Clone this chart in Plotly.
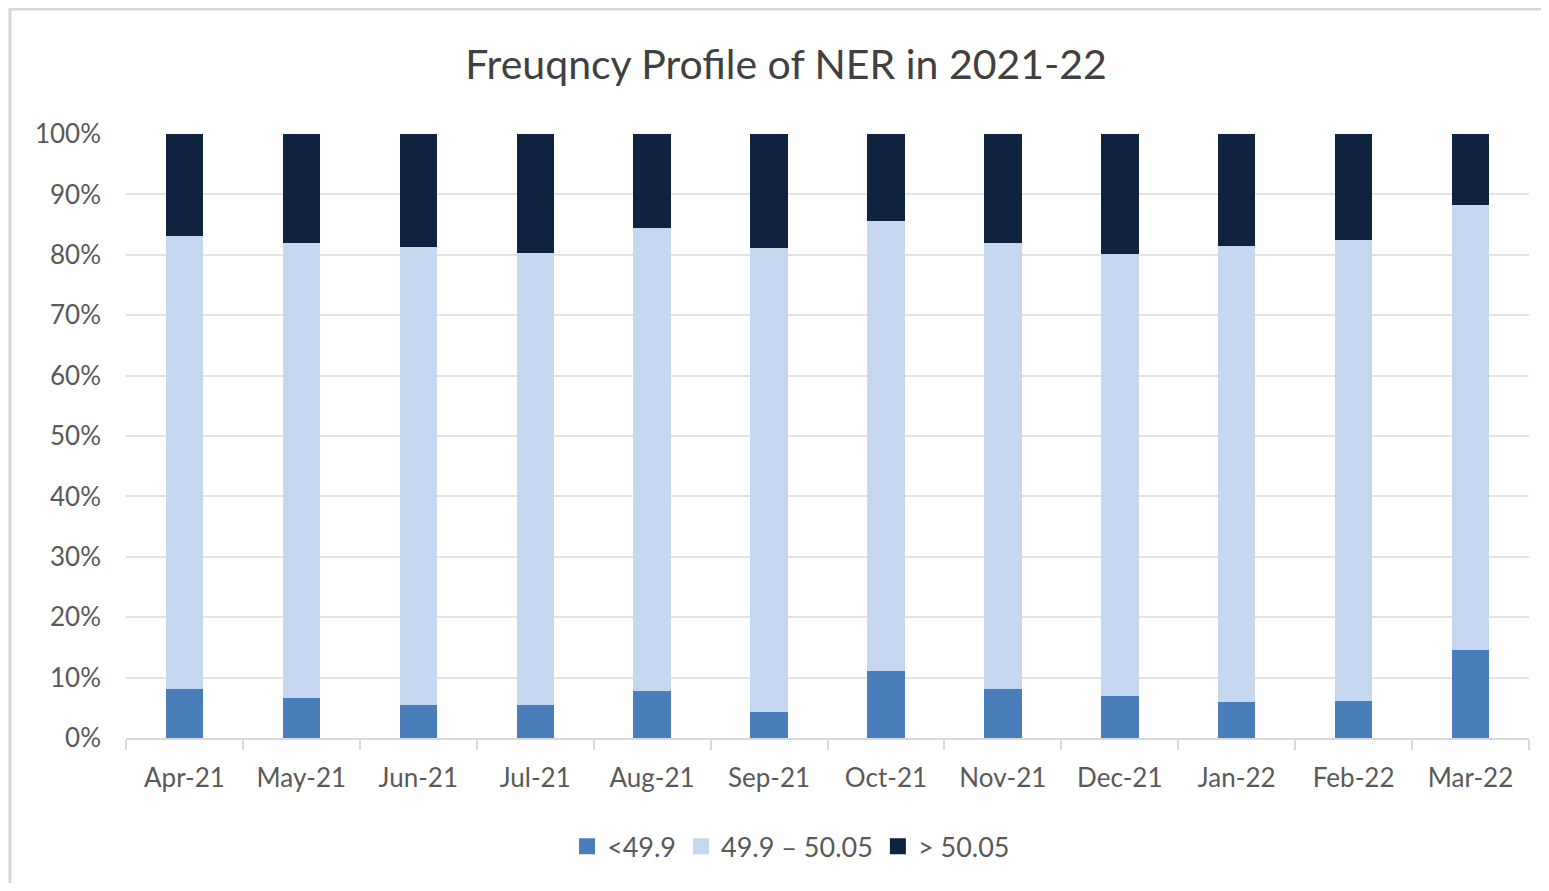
"""Frequency profile of NER, 2021-22 (100% stacked columns)."""

import plotly.graph_objects as go

months = ["Apr-21", "May-21", "Jun-21", "Jul-21", "Aug-21", "Sep-21",
          "Oct-21", "Nov-21", "Dec-21", "Jan-22", "Feb-22", "Mar-22"]
# share of time in each band, %
below = [8.1, 6.6, 5.5, 5.5, 7.8, 4.3, 11.1, 8.1, 7.0, 6.0, 6.1, 14.6]
within = [75.0, 75.4, 75.8, 74.8, 76.6, 76.8, 74.5, 73.9, 73.1, 75.5, 76.4, 73.6]
above = [16.9, 18.0, 18.7, 19.7, 15.6, 18.9, 14.4, 18.0, 19.9, 18.5, 17.5, 11.8]

series = [
    ("<49.9", below, "#4a7ebb"),
    ("49.9 \u2013 50.05", within, "#c5d7ee"),
    ("> 50.05", above, "#0f2341"),
]

fig = go.Figure()
for name, vals, color in series:
    fig.add_trace(go.Bar(x=months, y=vals, name=name, marker_color=color,
                         marker_line_width=0, showlegend=False))
# legend entries as bigger squares
for name, _, color in series:
    fig.add_trace(go.Scatter(x=[None], y=[None], mode="markers", name=name,
                             marker=dict(symbol="square", size=18, color=color)))

grey = "#595959"
fig.update_layout(
    barmode="stack",
    bargap=0.68,
    width=1533,
    height=875,
    paper_bgcolor="white",
    plot_bgcolor="white",
    font=dict(family="Lato, Open Sans, sans-serif", color=grey, size=25),
    title=dict(text="Freuqncy Profile of NER in 2021-22", x=0.5075, xanchor="center",
               y=0.935, yanchor="middle", font=dict(size=41, color="#404040")),
    margin=dict(l=118, r=12, t=126, b=145),
    legend=dict(orientation="h", x=0.474, xanchor="center", y=-0.18, yanchor="middle",
                font=dict(size=27, color=grey), traceorder="normal",
                itemwidth=30, tracegroupgap=0),
    xaxis=dict(showline=True, linecolor="#d9d9d9", linewidth=2, ticks="outside",
               tickson="boundaries", ticklen=10, tickcolor="#d9d9d9", tickwidth=2,
               showgrid=False, tickfont=dict(size=26, color=grey),
               ticklabelstandoff=16),
    yaxis=dict(range=[0, 100], dtick=10, ticksuffix="%", showgrid=True,
               gridcolor="#e3e3e3", gridwidth=2, zeroline=False,
               tickfont=dict(size=26, color=grey), ticklabelstandoff=24),
    shapes=[dict(type="rect", xref="paper", yref="paper", x0=-0.0827, x1=1.02,
                 y0=-0.3, y1=1.207, line=dict(color="#d6d6d6", width=3))],
)

fig.write_html("out.html")
